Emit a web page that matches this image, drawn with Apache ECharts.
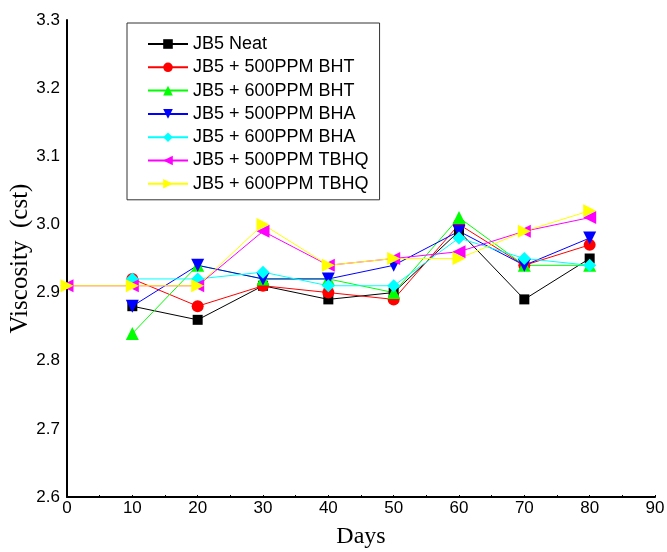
<!DOCTYPE html>
<html><head><meta charset="utf-8">
<script src="https://cdn.jsdelivr.net/npm/echarts@6/dist/echarts.min.js"></script>
<style>html,body{margin:0;padding:0;background:#fff}#c{width:667px;height:552px}</style>
</head><body><div id="c"></div>
<script>
const seriesNames = ["JB5 Neat","JB5 + 500PPM BHT","JB5 + 600PPM BHT","JB5 + 500PPM BHA","JB5 + 600PPM BHA","JB5 + 500PPM TBHQ","JB5 + 600PPM TBHQ"];
const daysFrom10 = [10,20,30,40,50,60,70,80];
const daysFrom0 = [0,10,20,30,40,50,60,70,80];
const neat     = [2.88,2.86,2.91,2.89,2.90,2.99,2.89,2.95];
const bht500   = [2.92,2.88,2.91,2.90,2.89,3.00,2.94,2.97];
const bht600   = [2.84,2.94,2.92,2.92,2.90,3.01,2.94,2.94];
const bha500   = [2.88,2.94,2.92,2.92,2.94,2.99,2.94,2.98];
const bha600   = [2.92,2.92,2.93,2.91,2.91,2.98,2.95,2.94];
const tbhq500  = [2.91,2.91,2.91,2.99,2.94,2.95,2.96,2.99,3.01];
const tbhq600  = [2.91,2.91,2.91,3.00,2.94,2.95,2.95,2.99,3.02];
const xTicks = [0,10,20,30,40,50,60,70,80,90];
const yTicks = [2.6,2.7,2.8,2.9,3.0,3.1,3.2,3.3];

const colors = ['#000000','#ff0000','#00ff00','#0000ff','#00ffff','#ff00ff','#ffff00'];
const symbols = ['rect','circle','triangle','triangle','diamond','triangle','triangle'];
const rotates = [0,0,0,180,0,90,-90];
const sizes = [10,12,13,13,13,13,13];
const values = [neat,bht500,bht600,bha500,bha600,tbhq500,tbhq600];
const xs = [daysFrom10,daysFrom10,daysFrom10,daysFrom10,daysFrom10,daysFrom0,daysFrom0];

const series = seriesNames.map((n,i)=>({
  name:n, type:'line',
  data: values[i].map((v,j)=>[xs[i][j],v]),
  symbol: symbols[i], symbolRotate: rotates[i], symbolSize: sizes[i],
  showAllSymbol:true,
  lineStyle:{color:colors[i],width:1},
  itemStyle:{color:colors[i]},
  animation:false
}));

const chart = echarts.init(document.getElementById('c'));
chart.setOption({
  animation:false,
  backgroundColor:'#fff',
  grid:{left:67,right:12,top:20,bottom:55,containLabel:false,outerBoundsMode:'none'},
  legend:{
    orient:'vertical', left:127, top:23,
    backgroundColor:'#fff',
    borderColor:'#333', borderWidth:1,
    padding:[12,11,7,20],
    itemWidth:40, itemHeight:12, itemGap:5.3,
    textStyle:{fontFamily:'Liberation Sans, Arial', fontSize:18, color:'#000'},
    data: seriesNames
  },
  xAxis:{
    type:'value', min:0, max:90, interval:10,
    name:'Days', nameLocation:'middle', nameGap:28,
    nameTextStyle:{fontFamily:'Liberation Serif, Times New Roman', fontSize:24, color:'#000'},
    axisLine:{show:true,onZero:false,lineStyle:{color:'#000',width:2}},
    axisTick:{show:true,inside:true,length:2,lineStyle:{color:'#000'}},
    minorTick:{show:true,splitNumber:2,length:2,lineStyle:{color:'#000'}},
    splitLine:{show:false},
    axisLabel:{fontFamily:'Liberation Sans, Arial',fontSize:17,color:'#000',margin:3,
      formatter:v=> xTicks.includes(v)? String(v):''}
  },
  yAxis:{
    type:'value', min:2.6, max:3.3, interval:0.1,
    name:'Viscosity  (cst)', nameLocation:'middle', nameGap:34, nameMoveOverlap:false,
    nameTextStyle:{fontFamily:'Liberation Serif, Times New Roman', fontSize:25, color:'#000'},
    axisLine:{show:true,onZero:false,lineStyle:{color:'#000',width:2}},
    axisTick:{show:false},
    splitLine:{show:false},
    axisLabel:{fontFamily:'Liberation Sans, Arial',fontSize:17,color:'#000',margin:7,
      formatter:v=>{const t=yTicks.find(y=>Math.abs(y-v)<1e-6);return t!==undefined?t.toFixed(1):'';}}
  },
  series: series
});
</script></body></html>
